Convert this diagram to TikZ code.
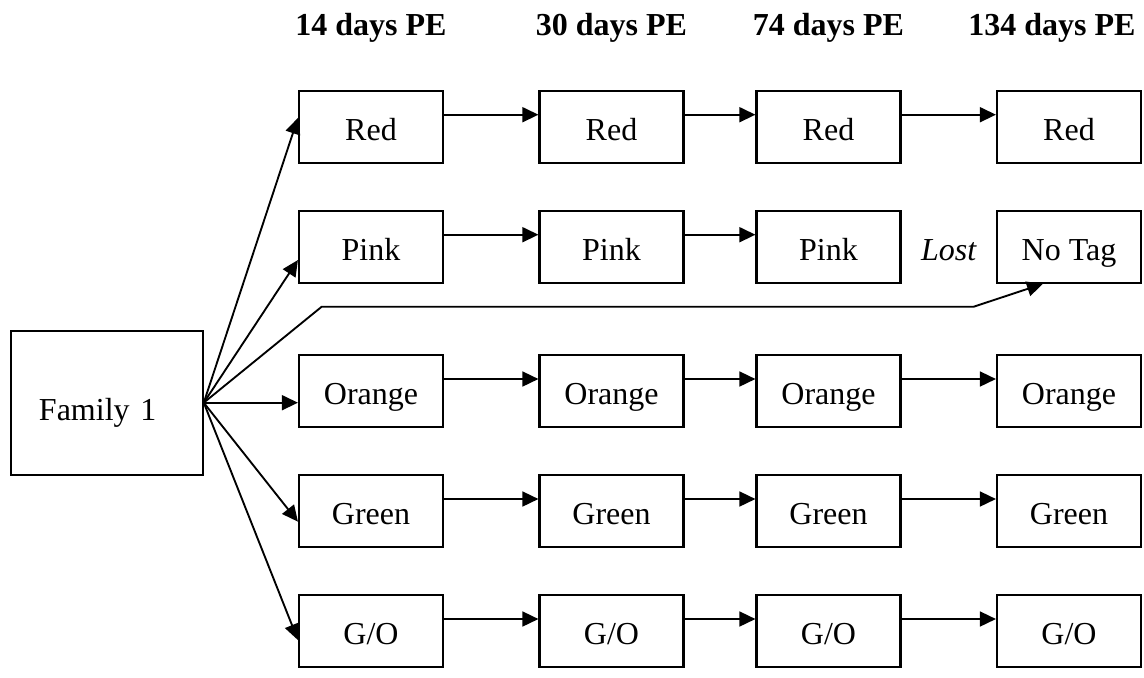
\documentclass[tikz,border=0pt]{standalone}
\usepackage{fontspec}
\setmainfont{Liberation Serif}
\usetikzlibrary{arrows.meta,calc}
\tikzset{
  txt/.style={font=\fontsize{12}{14}\selectfont},
  tagbox/.style={txt,draw,line width=0.8pt,minimum width=54pt,minimum height=27pt,inner sep=0pt,
    text height=12pt,text depth=2pt},
  arr/.style={line width=0.7pt,-{Triangle[length=6pt,width=5.6pt]}},
}
\begin{document}
\begin{tikzpicture}[x=0.375pt,y=-0.375pt]
  \useasboundingbox (0,0) rectangle (1144,677);
  % sampling dates
  \node[txt,font=\fontsize{12}{14}\selectfont\bfseries,anchor=base] (h1) at (371,35) {14 days PE};
  \node[txt,font=\fontsize{12}{14}\selectfont\bfseries,anchor=base] (h2) at (611.5,35) {30 days PE};
  \node[txt,font=\fontsize{12}{14}\selectfont\bfseries,anchor=base] (h3) at (828.5,35) {74 days PE};
  \node[txt,font=\fontsize{12}{14}\selectfont\bfseries,anchor=base] (h4) at (1052,35) {134 days PE};
  % family and tags
  \node[tagbox,minimum width=72pt,minimum height=54pt,text height=14pt,text depth=1pt,
    text width=50.8pt,align=left] (fam) at (106.7,402.7) {Family 1};
  \foreach \c/\x in {1/371,2/611.5,3/828.5,4/1069} {
    \node[tagbox] (r\c) at (\x,126.7) {Red};
    \node[tagbox] (o\c) at (\x,391) {Orange};
    \node[tagbox] (g\c) at (\x,511) {Green};
    \node[tagbox] (go\c) at (\x,631) {G/O};
  }
  \foreach \c/\x in {1/371,2/611.5,3/828.5}
    \node[tagbox] (p\c) at (\x,246.7) {Pink};
  \node[tagbox] (nt) at (1069,246.7) {No Tag};
  \node[txt,font=\fontsize{12}{14}\selectfont\itshape,text height=12pt,text depth=2pt]
    (lost) at ($(p3.east)!0.5!(nt.west)$) {Lost};
  % fan out of the family
  \draw[arr] (fam.east) -- ([yshift=3.3pt]r1.west);
  \draw[arr] (fam.east) -- ([yshift=-5pt]p1.west);
  \draw[arr] (fam.east) -- (fam.east -| o1.west);
  \draw[arr] (fam.east) -- ([yshift=-4pt]g1.west);
  \draw[arr] (fam.east) -- ([yshift=-3.4pt]go1.west);
  % lost tag
  \coordinate (lostA) at (321.7,306.7);
  \coordinate (lostB) at (973.7,306.7);
  \draw[arr] (fam.east) -- (lostA) -- (lostB) -- ([xshift=-9.75pt]nt.south);
  % rows
  \foreach \r in {r,o,g,go}
    \foreach \a/\b in {1/2,2/3,3/4}
      \draw[arr] ([yshift=4.5pt]\r\a.east) -- ([yshift=4.5pt]\r\b.west);
  \foreach \a/\b in {1/2,2/3}
    \draw[arr] ([yshift=4.5pt]p\a.east) -- ([yshift=4.5pt]p\b.west);
\end{tikzpicture}
\end{document}
